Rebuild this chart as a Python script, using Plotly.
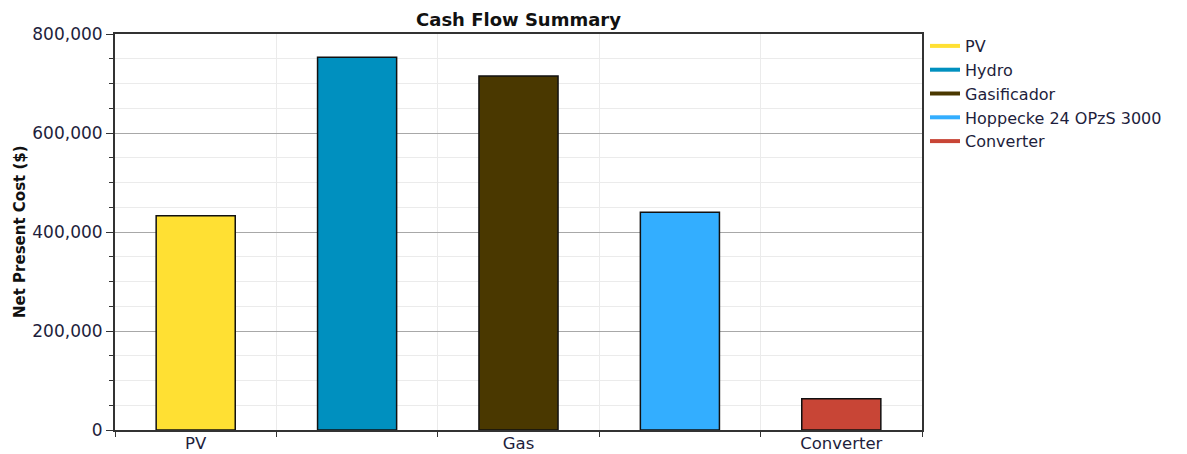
import plotly.graph_objects as go

categories = ["PV", "Hydro", "Gasificador", "Hoppecke 24 OPzS 3000", "Converter"]
tick_labels = ["PV", "", "Gas", "", "Converter"]
values = [433000, 753000, 715000, 440000, 63000]
colors = ["#FFE033", "#0090BF", "#4A3800", "#33AEFF", "#C84536"]

FONT = "DejaVu Sans, Verdana, sans-serif"
TXT = "#1E1E3C"

# page body has an 8px margin; figure offset accordingly
W, H = 1179, 446
L, T = 107, 26
PW, PH = 807, 396

fig = go.Figure()
xs = list(range(len(categories)))
fig.add_trace(go.Bar(
    x=xs, y=values, width=0.49,
    marker=dict(color=colors, line=dict(color="#111111", width=1.5)),
    showlegend=False, hoverinfo="skip"))
for name, col in zip(categories, colors):
    fig.add_trace(go.Scatter(
        x=[None], y=[None], mode="lines", name=name,
        line=dict(color=col, width=4)))

fig.update_layout(
    width=W, height=H,
    margin=dict(l=L, r=W - L - PW, t=T, b=H - T - PH, autoexpand=False),
    plot_bgcolor="white", paper_bgcolor="white",
    font=dict(family=FONT, size=17, color=TXT),
    title=dict(text="<b>Cash Flow Summary</b>", x=(L + PW / 2) / W, xanchor="center",
               y=1 - 12 / H, yanchor="middle", yref="container",
               font=dict(size=18, color="#111111")),
    legend=dict(xref="container", yref="container",
                x=(925 - 8) / W, y=1 - (29 - 8) / H, xanchor="left", yanchor="top",
                font=dict(size=16, color=TXT), bgcolor="rgba(0,0,0,0)",
                tracegroupgap=0, itemwidth=30),
)
fig.update_xaxes(
    range=[-0.5, len(categories) - 0.5], automargin=False,
    tickmode="array", tickvals=xs, ticktext=tick_labels,
    ticks="", showgrid=False, zeroline=False, ticklabelstandoff=-3,
    showline=True, linecolor="#333333", linewidth=2, mirror=True,
    tickfont=dict(size=16.5, color=TXT),
    minor=dict(tickmode="array", tickvals=[i - 0.5 for i in xs] + [len(xs) - 0.5],
               ticks="outside", ticklen=5, tickcolor="#333333",
               showgrid=True, gridcolor="#EBEBEB", gridwidth=1),
)
fig.update_yaxes(
    range=[0, 800000], dtick=200000, tickformat=",", automargin=False,
    ticks="outside", ticklen=7, tickcolor="#333333",
    showgrid=True, gridcolor="#A8A8A8", gridwidth=1, zeroline=False,
    showline=True, linecolor="#333333", linewidth=2, mirror=True,
    tickfont=dict(size=17, color=TXT),
    minor=dict(dtick=50000, ticks="outside", ticklen=4, tickcolor="#333333",
               showgrid=True, gridcolor="#EBEBEB", gridwidth=1),
)
fig.add_annotation(
    text="<b>Net Present Cost ($)</b>", textangle=-90,
    xref="paper", yref="paper", x=(20 - 8 - L) / PW, y=0.5,
    xanchor="center", yanchor="middle", showarrow=False,
    font=dict(size=15, color="#111111"))

fig.write_html("out.html")
